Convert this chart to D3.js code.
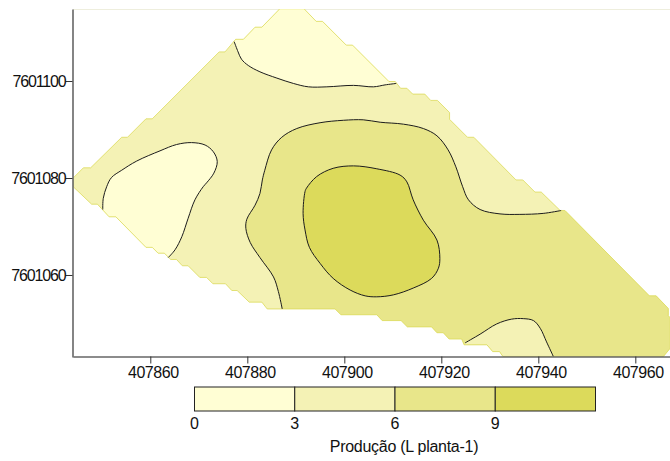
<!DOCTYPE html>
<html><head><meta charset="utf-8">
<script src="https://cdn.jsdelivr.net/npm/d3@7"></script>
<style>html,body{margin:0;padding:0;background:#fff}svg{display:block}text{font-family:"Liberation Sans",Arial,sans-serif;fill:#111}</style>
</head><body><div id="c"></div>
<script>
// Coordinates are metres, written as offsets from these two bases
const eastBase = 407000, northBase = 7601000;
const xTicks = [407860,407880,407900,407920,407940,407960];
const yTicks = [7601060,7601080,7601100];
const levelBreaks = [0,3,6,9];
const levelColors = ["#FFFED4","#F4F2B5","#E8E68A","#DCDA5B"];
const legendTitle = "Produção (L planta-1)";

const boundary = [[844.1,80],[846.2,82.1],[847.7,82.1],[854.1,88.4],[855.3,88.4],[859.1,92.2],[860.4,92.2],[874.2,106],[875.4,106],[877.6,108.6],[879.2,108.6],[881.6,111.1],[883,111.1],[886.7,114.9],[891.7,114.9],[894.2,112.3],[895.5,112.3],[900.4,107.4],[901.7,107.4],[909.2,99.9],[910.5,99.9],[911.6,98.5],[912.9,98.5],[914.1,97.3],[916.6,97.3],[917.8,96],[919.2,96],[921.7,93.5],[921.7,92.1],[925.4,88.4],[926.7,88.4],[935.4,79.6],[936.8,79.6],[939.3,77.1],[940.6,77.1],[944.5,73.3],[945.5,73.3],[962.9,55.7],[964.3,55.7],[966.8,53.1],[966.8,51.6],[967.2,51.2],[967.2,44.9],[965.8,43.2],[932.7,43.2],[932,44.2],[930.6,44.2],[929.4,45.6],[924.7,45.6],[924.2,46.8],[921.6,46.8],[920.4,48.1],[919.1,48.1],[918,49.3],[913,49.3],[911.7,50.6],[907.8,50.6],[906.7,51.8],[899.3,51.8],[898.1,53],[884.1,53],[883,54.4],[880.4,54.4],[877.9,56.8],[876.8,56.8],[875.5,58.2],[872.9,58.2],[871.6,59.5],[870.2,59.5],[867.8,61.9],[866.6,61.9],[865.4,63.2],[864.2,63.2],[862.9,64.5],[861.6,64.5],[860.4,65.7],[859.1,65.7],[852.9,72],[851.5,72],[849.1,74.6],[847.9,74.6],[844.1,78.2]];

const contourTopCap = [[877.3,108.1],[878.1,106],[878.8,104.5],[880.2,103.2],[882.6,101.9],[886.1,100.6],[889.5,99.5],[892.6,98.8],[896.4,98.8],[901.9,99.1],[906,98.8],[908.4,99.2],[910.7,99.5]];
const closeTopCap = [[910.7,120],[877.3,120]];

const contourLeftBlob = [[850.2,73.5],[850.3,75.8],[851,78.2],[852,80.1],[854.1,81.6],[857.2,83.5],[862,85.6],[865.4,86.9],[868.5,87.3],[871.3,86.8],[873,85.4],[873.8,83.4],[873.1,81],[871.6,79],[870.9,78.2],[869.2,75.5],[867.8,71.7],[866.5,67.9],[865.1,65.2],[863.7,63.6]];
const closeLeftBlob = [[862,61],[847.6,69.3]];

const contourMiddle = [[887.2,53],[886.4,56.6],[885.4,59.6],[882.6,63.6],[880.6,66.7],[879.7,69.6],[879.9,71.5],[881.6,74.4],[882.6,76.8],[883.1,79.6],[883.6,81.6],[885,85.8],[887.1,88.4],[890.2,90.2],[895,91.4],[899.8,91.9],[903.9,92],[907.4,91.5],[912.2,91.1],[916.3,90.2],[919.1,88.7],[921.4,85.8],[923,82.3],[924.4,78.2],[925.6,75.5],[928,73.5],[932.1,72.6],[936.2,72.5],[941,72.7],[944.7,73.3]];
const closeMiddle = [[975,73.3],[975,40],[887.2,40]];

const contourPocket = [[924.9,46],[928,47.8],[931.4,49.9],[934.5,50.9],[936.9,51],[939,50.6],[940.4,49],[941.7,46.2],[943.1,43.2]];
const closePocket = [[943.1,40],[924.9,40]];

const contourCore = [[892.2,77.9],[894.3,80.3],[897.7,82],[901.9,82.5],[906.7,81.9],[911.5,80.6],[912.9,79.2],[914.2,75.5],[916.3,71.3],[919.1,67.2],[919.7,63.4],[919.4,61.4],[918,59.3],[914.2,57.3],[910.1,55.9],[906.7,55.5],[904.3,55.7],[901.2,56.9],[897.7,59.3],[895,62.4],[892.8,65.7],[891.9,69.3],[891.5,72.7],[891.9,77.2]];

const W = 670, H = 461;
const plot = {l:73, r:670, t:9, b:357};
const x = d3.scaleLinear().domain([407844.06,407967.15]).range([plot.l,plot.r]);
const y = d3.scaleLinear().domain([7601043.09,7601114.85]).range([plot.b,plot.t]);
const px = p => [x(eastBase+p[0]), y(northBase+p[1])];

const svg = d3.select("#c").append("svg").attr("width",W).attr("height",H);
const defs = svg.append("defs");
defs.append("clipPath").attr("id","plotClip").append("rect")
  .attr("x",plot.l).attr("y",plot.t).attr("width",plot.r-plot.l).attr("height",plot.b-plot.t);
const straight = d3.line();
const smooth = d3.line().curve(d3.curveCatmullRom.alpha(0.5));
const smoothClosed = d3.line().curve(d3.curveCatmullRomClosed.alpha(0.5));
defs.append("clipPath").attr("id","fieldClip").append("path").attr("d",straight(boundary.map(px))+"Z");

// faint frame line along the top
svg.append("line").attr("x1",plot.l).attr("x2",plot.r).attr("y1",plot.t+0.5).attr("y2",plot.t+0.5)
  .attr("stroke","#eeeedd").attr("stroke-width",1);

const outer = svg.append("g").attr("clip-path","url(#plotClip)");
outer.append("path").attr("d",straight(boundary.map(px))+"Z").attr("fill",levelColors[1]);
const field = outer.append("g").attr("clip-path","url(#fieldClip)");

function band(contour, closing, color){
  const d = smooth(contour.map(px)) + closing.map(p=>"L"+px(p).join(",")).join("") + "Z";
  field.append("path").attr("d",d).attr("fill",color);
}
band(contourTopCap, closeTopCap, levelColors[0]);
band(contourLeftBlob, closeLeftBlob, levelColors[0]);
band(contourMiddle, closeMiddle, levelColors[2]);
band(contourPocket, closePocket, levelColors[1]);
field.append("path").attr("d",smoothClosed(contourCore.map(px))).attr("fill",levelColors[3]);

// boundary tint over the fills
outer.append("path").attr("d",straight(boundary.map(px))+"Z")
  .attr("fill","none").attr("stroke",levelColors[3]).attr("stroke-width",0.8);

const lines = outer.append("g").attr("fill","none").attr("stroke","#1c1c1c").attr("stroke-width",1);
[contourTopCap,contourLeftBlob,contourMiddle,contourPocket].forEach(c=>lines.append("path").attr("d",smooth(c.map(px))));
lines.append("path").attr("d",smoothClosed(contourCore.map(px)));

// axes
const fmt = d3.format("d");
const xAxis = svg.append("g").attr("transform",`translate(0,${plot.b-0.5})`)
  .call(d3.axisBottom(x).tickValues(xTicks).tickFormat(fmt).tickSize(7).tickPadding(3).tickSizeOuter(0));
const yAxis = svg.append("g").attr("transform",`translate(${plot.l-0.5},0)`)
  .call(d3.axisLeft(y).tickValues(yTicks).tickFormat(fmt).tickSize(7).tickPadding(0).tickSizeOuter(0));
[xAxis,yAxis].forEach(a=>{
  a.selectAll("text").style("font-family",'"Liberation Sans",Arial,sans-serif').style("font-size","16px").attr("fill","#111");
  a.select(".domain").attr("stroke","#666").attr("stroke-width",1.6);
  a.selectAll(".tick line").attr("stroke","#333").attr("stroke-width",1);
});
xAxis.selectAll("text").style("letter-spacing","-0.45px").attr("dx",2.5);
yAxis.selectAll("text").style("letter-spacing","-1.15px");

// legend
const lx = d3.scaleLinear().domain([0,12]).range([194.5,595.5]);
const legend = svg.append("g");
const edges = levelBreaks.concat([12]);
legend.selectAll("rect").data(levelColors).join("rect")
  .attr("x",(d,i)=>lx(edges[i])).attr("y",387)
  .attr("width",(d,i)=>lx(edges[i+1])-lx(edges[i])).attr("height",24)
  .attr("fill",d=>d).attr("stroke","#222").attr("stroke-width",1);
legend.selectAll("text.t").data(levelBreaks).join("text").attr("class","t")
  .attr("x",d=>lx(d)).attr("y",429).attr("text-anchor","middle").attr("font-size",16).text(d=>d);
legend.append("text").attr("x",404).attr("y",452).attr("text-anchor","middle").attr("font-size",16)
  .style("letter-spacing","-0.27px").text(legendTitle);
</script></body></html>
